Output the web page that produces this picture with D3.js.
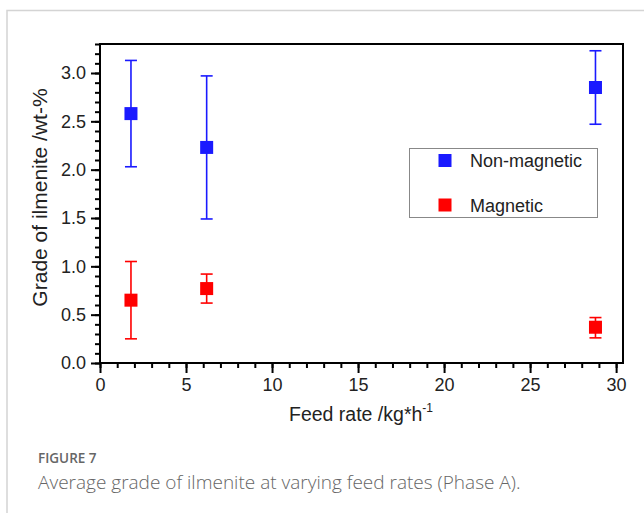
<!DOCTYPE html>
<html>
<head>
<meta charset="utf-8">
<script src="https://cdn.jsdelivr.net/npm/d3@7"></script>
<style>
  body { margin: 0; background: #fff; }
  svg { display: block; }
</style>
</head>
<body>
<svg id="chart"></svg>
<script>
// Feed rates /kg*h-1
var feedRates = [1.8, 6.2, 28.8];

// Non-magnetic fraction: mean, lower and upper error ends
var nonMagMean = [2.58, 2.23, 2.85];
var nonMagLow  = [2.03, 1.49, 2.47];
var nonMagHigh = [3.13, 2.97, 3.23];

// Magnetic fraction
var magMean = [0.65, 0.77, 0.37];
var magLow  = [0.25, 0.62, 0.26];
var magHigh = [1.05, 0.92, 0.47];

var seriesNames = ["Non-magnetic", "Magnetic"];
var seriesColors = ["#1a1aff", "#ff0000"];

var xMajorTicks = [0, 5, 10, 15, 20, 25, 30];
var yMajorTicks = [0, 0.5, 1.0, 1.5, 2.0, 2.5, 3.0];

var width = 644, height = 513;
var plot = { left: 100, top: 44, right: 623, bottom: 363 };
var chartFont = "'Liberation Sans', Arial, sans-serif";

var svg = d3.select("#chart")
    .attr("width", width)
    .attr("height", height);

// Outer figure frame (top and left edges only)
svg.append("path")
    .attr("d", "M7," + height + " V10.5 H" + width)
    .attr("fill", "none")
    .attr("stroke", "#d4d4d4")
    .attr("stroke-width", 1.5);

var x = d3.scaleLinear()
          .domain([0, 30.4])
          .range([plot.left, plot.right]);

var y = d3.scaleLinear()
          .domain([0, 3.3])
          .range([plot.bottom, plot.top]);

// Minor ticks
svg.append("g")
    .attr("transform", "translate(0," + plot.bottom + ")")
    .call(d3.axisBottom(x).tickValues(d3.range(0, 31, 1)).tickSize(5).tickSizeOuter(0).tickFormat(""))
    .call(g => g.select(".domain").remove())
    .selectAll("line").attr("stroke", "#000").attr("stroke-width", 2);

svg.append("g")
    .attr("transform", "translate(" + plot.left + ",0)")
    .call(d3.axisLeft(y).tickValues(d3.range(0, 34).map(d => d / 10)).tickSize(5).tickSizeOuter(0).tickFormat(""))
    .call(g => g.select(".domain").remove())
    .selectAll("line").attr("stroke", "#000").attr("stroke-width", 2);

// Major ticks with labels
var xAxis = svg.append("g")
    .attr("transform", "translate(0," + plot.bottom + ")")
    .call(d3.axisBottom(x).tickValues(xMajorTicks).tickSize(10).tickSizeOuter(0).tickPadding(5));
xAxis.select(".domain").remove();
xAxis.attr("font-size", 18).attr("font-family", chartFont);
xAxis.selectAll("line").attr("stroke", "#000").attr("stroke-width", 2);
xAxis.selectAll("text").attr("fill", "#222");

var yAxis = svg.append("g")
    .attr("transform", "translate(" + plot.left + ",0)")
    .call(d3.axisLeft(y).tickValues(yMajorTicks).tickSize(9).tickSizeOuter(0).tickPadding(5).tickFormat(d3.format(".1f")));
yAxis.select(".domain").remove();
yAxis.attr("font-size", 18).attr("font-family", chartFont);
yAxis.selectAll("line").attr("stroke", "#000").attr("stroke-width", 2);
yAxis.selectAll("text").attr("fill", "#222");

// Plot frame
svg.append("rect")
    .attr("x", plot.left)
    .attr("y", plot.top)
    .attr("width", plot.right - plot.left)
    .attr("height", plot.bottom - plot.top)
    .attr("fill", "none")
    .attr("stroke", "#000")
    .attr("stroke-width", 2);

// Axis titles
svg.append("text")
    .attr("x", 361)
    .attr("y", 421)
    .attr("text-anchor", "middle")
    .style("font-family", chartFont)
    .style("font-size", "19.5px")
    .style("fill", "#222")
    .text("Feed rate /kg*h")
  .append("tspan")
    .attr("dy", -9)
    .style("font-size", "12px")
    .text("-1");

svg.append("text")
    .attr("transform", "translate(47," + ((plot.top + plot.bottom) / 2 - 6) + ") rotate(-90)")
    .attr("text-anchor", "middle")
    .style("font-family", chartFont)
    .style("font-size", "21px")
    .style("fill", "#222")
    .text("Grade of ilmenite /wt-%");

// Build rows for each series
var series = [
  { name: seriesNames[0], color: seriesColors[0], rows: feedRates.map((f, i) => ({ x: f, y: nonMagMean[i], lo: nonMagLow[i], hi: nonMagHigh[i] })) },
  { name: seriesNames[1], color: seriesColors[1], rows: feedRates.map((f, i) => ({ x: f, y: magMean[i], lo: magLow[i], hi: magHigh[i] })) }
];

var markerSize = 13, capHalf = 6;

series.forEach(function(s) {
  var g = svg.append("g");

  // Error bars
  var bars = g.selectAll(".err")
      .data(s.rows)
      .enter()
      .append("g")
      .attr("stroke", s.color)
      .attr("stroke-width", 1.6);

  bars.append("line")
      .attr("x1", d => x(d.x)).attr("x2", d => x(d.x))
      .attr("y1", d => y(d.lo)).attr("y2", d => y(d.hi));
  bars.append("line")
      .attr("x1", d => x(d.x) - capHalf).attr("x2", d => x(d.x) + capHalf)
      .attr("y1", d => y(d.hi)).attr("y2", d => y(d.hi));
  bars.append("line")
      .attr("x1", d => x(d.x) - capHalf).attr("x2", d => x(d.x) + capHalf)
      .attr("y1", d => y(d.lo)).attr("y2", d => y(d.lo));

  // Square markers
  g.selectAll(".pt")
      .data(s.rows)
      .enter()
      .append("rect")
      .attr("x", d => x(d.x) - markerSize / 2)
      .attr("y", d => y(d.y) - markerSize / 2)
      .attr("width", markerSize)
      .attr("height", markerSize)
      .attr("fill", s.color);
});

// Legend
var legend = svg.append("g");
legend.append("rect")
    .attr("x", 409.5)
    .attr("y", 148.5)
    .attr("width", 188)
    .attr("height", 69)
    .attr("fill", "#fff")
    .attr("stroke", "#888")
    .attr("stroke-width", 1);

var items = legend.selectAll(".item")
    .data(series)
    .enter()
    .append("g")
    .attr("transform", (d, i) => "translate(445," + (160.5 + i * 44.5) + ")");

items.append("rect")
    .attr("x", -markerSize / 2)
    .attr("y", -markerSize / 2)
    .attr("width", markerSize)
    .attr("height", markerSize)
    .attr("fill", d => d.color);

items.append("text")
    .attr("x", 25)
    .attr("y", 6.5)
    .style("font-family", chartFont)
    .style("font-size", "18px")
    .style("fill", "#222")
    .text(d => d.name);

// Caption
svg.append("text")
    .attr("x", 38)
    .attr("y", 463)
    .style("font-family", "'Open Sans', sans-serif")
    .style("font-size", "13.5px")
    .style("font-weight", 600)
    .style("fill", "#666")
    .text("FIGURE 7");

svg.append("text")
    .attr("x", 38)
    .attr("y", 489)
    .style("font-family", "'Open Sans', sans-serif")
    .style("font-size", "19px")
    .style("font-weight", 300)
    .style("fill", "#666")
    .text("Average grade of ilmenite at varying feed rates (Phase A).");
</script>
</body>
</html>
